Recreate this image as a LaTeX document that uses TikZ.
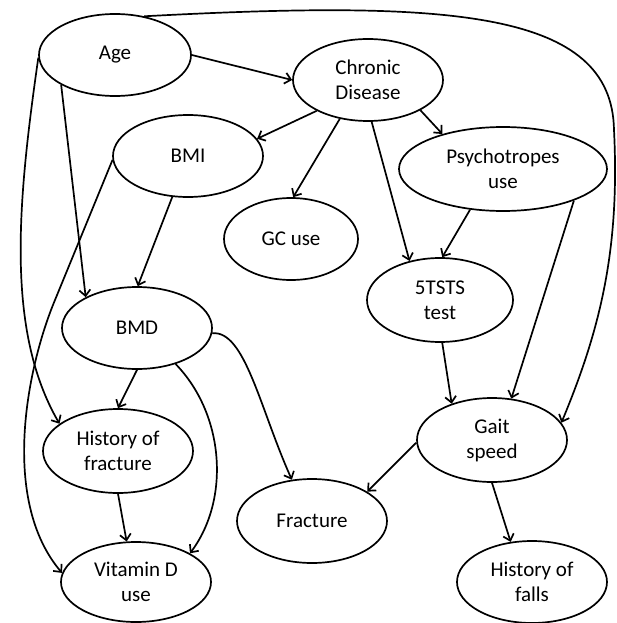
\documentclass[tikz,border=0pt]{standalone}
\usepackage{fontspec}
\setmainfont{Carlito}
\usetikzlibrary{arrows.meta,shapes.geometric}
\begin{document}
\begin{tikzpicture}[x=1pt,y=-1pt,
  ell/.style={ellipse,draw,line width=1.7pt,inner sep=0pt,align=center,
    font=\fontsize{21}{25}\selectfont},
  arr/.style={line width=1.7pt,-{Straight Barb[length=6pt,width=11pt,line width=1.7pt]}}]
\useasboundingbox (0,0) rectangle (616,623);
\node[ell,minimum width=152pt,minimum height=82pt] (age) at (115,55) {Age};
\node[ell,minimum width=150pt,minimum height=82pt] (chr) at (368,80) {Chronic\\Disease};
\node[ell,minimum width=150pt,minimum height=82pt] (bmi) at (188,156) {BMI};
\node[ell,minimum width=208pt,minimum height=84pt] (psy) at (503,169) {Psychotropes\\use};
\node[ell,minimum width=134pt,minimum height=82pt] (gc) at (291,239) {GC use};
\node[ell,minimum width=146pt,minimum height=84pt] (ts) at (440,300) {5TSTS\\test};
\node[ell,minimum width=150pt,minimum height=82pt] (bmd) at (137,328) {BMD};
\node[ell,minimum width=150pt,minimum height=84pt] (hof) at (118,451) {History of\\fracture};
\node[ell,minimum width=150pt,minimum height=80pt] (vd) at (136,582) {Vitamin D\\use};
\node[ell,minimum width=150pt,minimum height=84pt] (fr) at (312,521) {Fracture};
\node[ell,minimum width=150pt,minimum height=84pt] (gait) at (492,440) {Gait\\speed};
\node[ell,minimum width=150pt,minimum height=82pt] (hofa) at (532,582) {History of\\falls};
\coordinate (tr) at (614,130);
\coordinate (lb) at (55,300);
% edges
\draw[arr] (age.0) -- (chr.180);
\draw[arr] (age.53) .. controls (450,0) and (612,10) .. (tr)
  .. controls (620,250) and (600,330) .. (gait.14);
\draw[arr] (age.209) -- (bmd.149);
\draw[arr] (age.182) .. controls (18,200) and (5,330) .. (hof.155);
\draw[arr] (chr.211) -- (bmi.14);
\draw[arr] (chr.234) -- (gc.87);
\draw[arr] (chr.275) -- (ts.128);
\draw[arr] (chr.330) -- (psy.150);
\draw[arr] (psy.231) -- (ts.87);
\draw[arr] (psy.336) -- (gait.65);
\draw[arr] (ts.273) -- (gait.138);
\draw[arr] (bmi.249) -- (bmd.89);
\draw[arr] (bmi.183) -- (lb) .. controls (27,367) and (0,500) .. (vd.173);
\draw[arr] (bmd.270) -- (hof.90);
\draw[arr] (bmd.317) .. controls (225,415) and (230,500) .. (vd.28);
\draw[arr] (bmd.356) .. controls (245,330) and (260,409) .. (fr.116);
\draw[arr] (hof.270) -- (vd.103);
\draw[arr] (gait.182) -- (fr.28);
\draw[arr] (gait.270) -- (hofa.118);
\end{tikzpicture}
\end{document}
